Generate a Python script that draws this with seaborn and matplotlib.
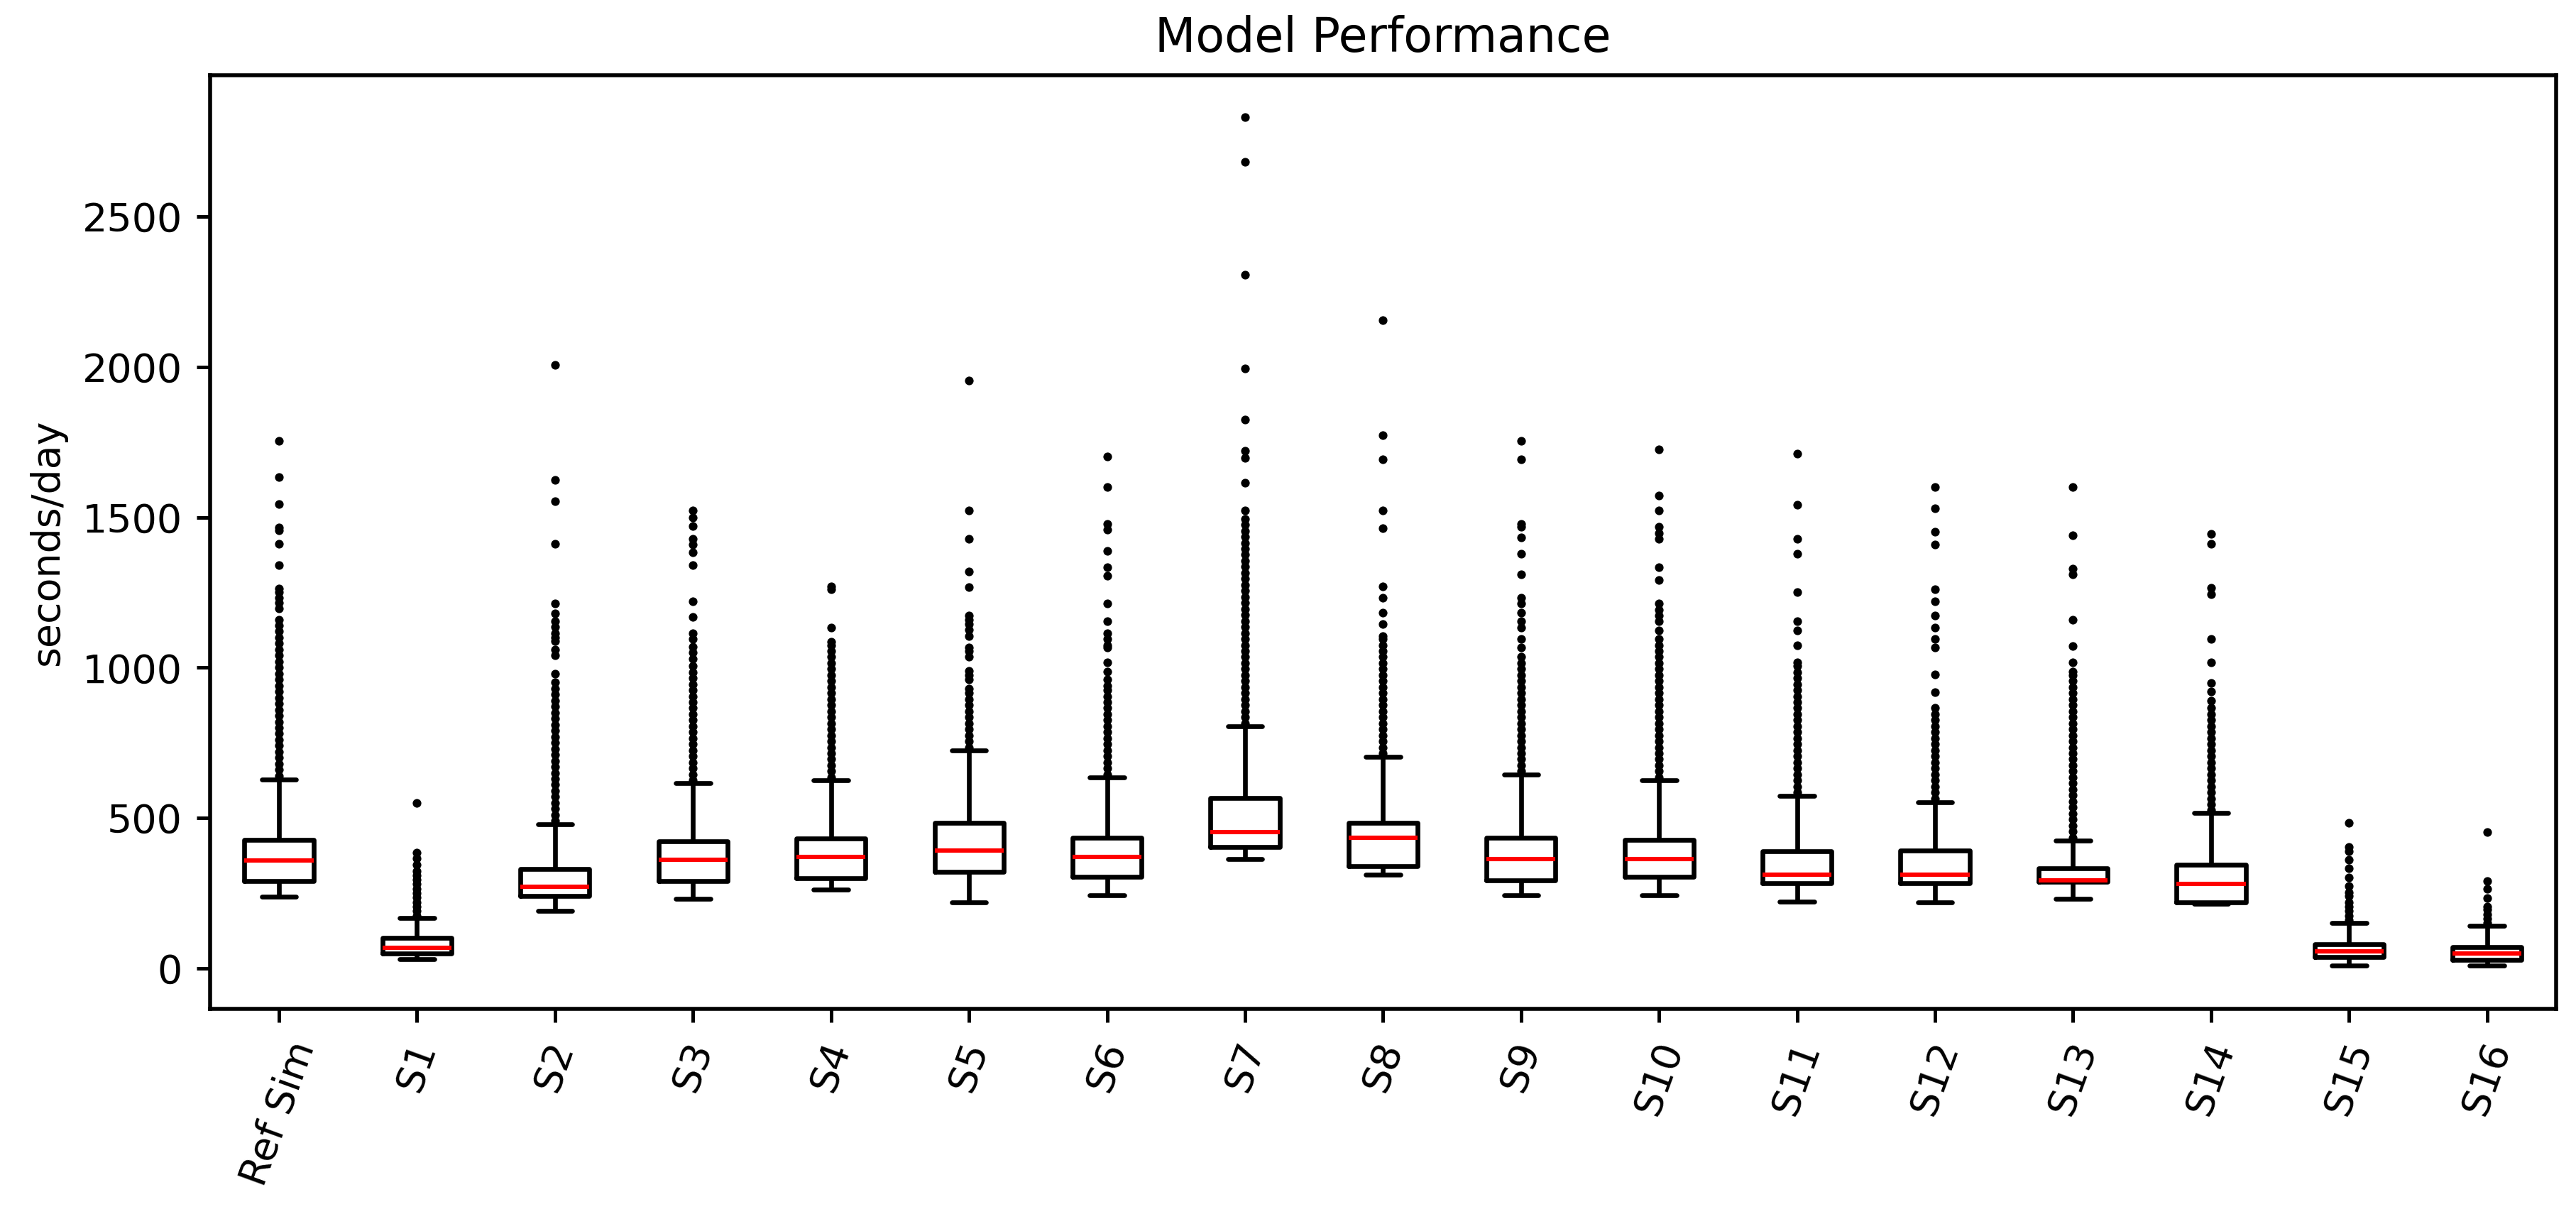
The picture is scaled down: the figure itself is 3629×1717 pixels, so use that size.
import matplotlib
matplotlib.use("Agg")
import matplotlib.pyplot as plt
import pandas as pd
import seaborn as sns

# ---------------- data ----------------
categories = ["Ref Sim", "S1", "S2", "S3", "S4", "S5", "S6", "S7", "S8",
              "S9", "S10", "S11", "S12", "S13", "S14", "S15", "S16"]

whisker_low = [239, 30, 190, 230, 261, 220, 242, 363, 312, 242, 242, 222, 220, 232, 214, 10, 10]
q1 = [289, 50, 240, 291, 300, 320, 304, 404, 339, 292, 304, 283, 283, 287, 218, 38, 28]
median = [358, 68, 270, 361, 371, 392, 371, 453, 433, 363, 363, 312, 312, 292, 281, 57, 48]
q3 = [428, 100, 329, 423, 431, 484, 433, 566, 484, 433, 426, 390, 392, 332, 345, 81, 71]
whisker_high = [628, 167, 480, 615, 625, 725, 635, 805, 703, 645, 625, 574, 553, 424, 516, 151, 142]

outliers_ref_sim = [640, 660, 680, 700, 720, 740, 760, 780, 800, 820, 840, 860, 880, 900,
                    920, 940, 960, 980, 1000, 1020, 1040, 1060, 1080, 1100, 1120, 1140, 1160,
                    1196, 1216, 1233, 1250, 1263, 1341, 1412, 1456, 1466, 1543, 1633, 1753]
outliers_s1 = [175, 190, 205, 220, 235, 250, 265, 280, 295, 310, 324, 345, 365, 385, 550]
outliers_s2 = [490, 510, 530, 550, 570, 590, 610, 630, 650, 670, 690, 710, 730, 750, 770,
               790, 810, 830, 850, 870, 890, 910, 930, 950, 980, 1040, 1060, 1088, 1101,
               1115, 1135, 1155, 1180, 1212, 1412, 1554, 1624, 2006]
outliers_s3 = [625, 645, 665, 685, 705, 725, 745, 765, 785, 805, 825, 845, 865, 885, 905,
               925, 945, 965, 985, 1005, 1030, 1050, 1070, 1095, 1115, 1169, 1220, 1340,
               1383, 1408, 1428, 1471, 1500, 1522]
outliers_s4 = [635, 655, 675, 695, 715, 735, 755, 775, 795, 815, 835, 855, 875, 895, 915,
               935, 955, 975, 995, 1015, 1035, 1055, 1075, 1085, 1134, 1261, 1271]
outliers_s5 = [735, 755, 775, 795, 815, 835, 855, 875, 895, 915, 929, 960, 975, 990, 1036,
               1055, 1066, 1105, 1125, 1144, 1160, 1173, 1267, 1320, 1428, 1522, 1954]
outliers_s6 = [645, 665, 685, 705, 725, 745, 765, 785, 805, 825, 845, 865, 885, 905, 925,
               940, 960, 987, 1017, 1066, 1075, 1095, 1115, 1154, 1212, 1306, 1334, 1389,
               1458, 1477, 1600, 1702]
outliers_s7 = [815, 835, 855, 875, 895, 915, 935, 955, 975, 995, 1015, 1035, 1055, 1075,
               1095, 1115, 1135, 1155, 1175, 1195, 1215, 1235, 1255, 1275, 1295, 1315, 1335,
               1355, 1375, 1395, 1415, 1435, 1455, 1475, 1495, 1522, 1614, 1698, 1721,
               1825, 1995, 2307, 2681, 2831]
outliers_s8 = [715, 735, 755, 775, 795, 815, 835, 855, 875, 895, 915, 935, 955, 975, 995,
               1015, 1035, 1055, 1075, 1095, 1105, 1144, 1183, 1232, 1271, 1463, 1522,
               1692, 1772, 2156]
outliers_s9 = [655, 675, 695, 715, 735, 755, 775, 795, 815, 835, 855, 875, 895, 915, 935,
               955, 975, 995, 1015, 1036, 1066, 1095, 1134, 1154, 1183, 1212, 1232, 1310,
               1379, 1432, 1467, 1477, 1692, 1755]
outliers_s10 = [635, 655, 675, 695, 715, 735, 755, 775, 795, 815, 835, 855, 875, 895, 915,
                935, 955, 975, 995, 1015, 1035, 1055, 1075, 1095, 1124, 1154, 1173, 1193,
                1212, 1291, 1334, 1428, 1447, 1467, 1522, 1573, 1725]
outliers_s11 = [585, 605, 625, 645, 665, 685, 705, 725, 745, 765, 785, 805, 825, 845, 865,
                885, 905, 925, 945, 965, 985, 1005, 1017, 1075, 1124, 1154, 1252, 1379,
                1428, 1541, 1712]
outliers_s12 = [565, 585, 605, 625, 645, 665, 685, 705, 725, 745, 765, 785, 805, 825, 845,
                865, 919, 977, 1066, 1095, 1134, 1173, 1220, 1261, 1408, 1451, 1530, 1600]
outliers_s13 = [435, 455, 475, 495, 515, 535, 555, 575, 595, 615, 635, 655, 675, 695, 715,
                735, 755, 775, 795, 815, 835, 855, 875, 895, 915, 935, 955, 975, 987, 1017,
                1071, 1160, 1310, 1330, 1441, 1600]
outliers_s14 = [525, 545, 565, 585, 605, 625, 645, 665, 685, 705, 725, 745, 765, 785, 805,
                825, 845, 865, 890, 920, 948, 1017, 1095, 1245, 1265, 1412, 1444]
outliers_s15 = [160, 175, 190, 205, 220, 240, 253, 273, 302, 332, 361, 390, 404, 484]
outliers_s16 = [150, 165, 180, 195, 205, 234, 263, 289, 453]

outlier_lists = [outliers_ref_sim, outliers_s1, outliers_s2, outliers_s3, outliers_s4,
                 outliers_s5, outliers_s6, outliers_s7, outliers_s8, outliers_s9,
                 outliers_s10, outliers_s11, outliers_s12, outliers_s13, outliers_s14,
                 outliers_s15, outliers_s16]

title = "Model Performance"
y_label = "seconds/day"

# ---------------- tables built from the arrays ----------------
box_rows = []
for i, cat in enumerate(categories):
    for v in (whisker_low[i], q1[i], median[i], q3[i], whisker_high[i]):
        box_rows.append({"category": cat, "value": v})
box_df = pd.DataFrame(box_rows)

out_rows = []
for cat, vals in zip(categories, outlier_lists):
    for v in vals:
        out_rows.append({"category": cat, "value": v})
out_df = pd.DataFrame(out_rows)

# ---------------- style ----------------
sns.set_style("ticks")
plt.rcParams.update({
    "font.family": ["DejaVu Sans"],
    "axes.edgecolor": "black",
    "axes.linewidth": 1.0,
    "text.color": "black",
    "axes.labelcolor": "black",
    "xtick.color": "black",
    "ytick.color": "black",
    "xtick.labelsize": 10,
    "ytick.labelsize": 10,
    "axes.labelsize": 10,
    "axes.titlesize": 12,
    "xtick.major.size": 3.5,
    "ytick.major.size": 3.5,
    "xtick.major.width": 0.9,
    "ytick.major.width": 0.9,
})

fig = plt.figure(figsize=(9.075, 4.2925), dpi=400)
ax = fig.add_axes([0.0815, 0.1724, 0.9105, 0.7659])

sns.boxplot(data=box_df, x="category", y="value", order=categories, ax=ax,
            width=0.5, whis=(0, 100), showfliers=False, fill=False,
            color="black", linewidth=1.2,
            medianprops={"color": "red", "linewidth": 1.1})

sns.stripplot(data=out_df, x="category", y="value", order=categories, ax=ax,
              jitter=False, color="black", size=2.2, linewidth=0)

ax.set_xlim(-0.5, len(categories) - 0.5)
ax.set_ylim(-135, 2970)
ax.set_yticks([0, 500, 1000, 1500, 2000, 2500])
ax.set_xlabel("")
ax.set_ylabel(y_label)
ax.set_title(title)
for lab in ax.get_xticklabels():
    lab.set_rotation(70)
    lab.set_ha("center")
for s in ax.spines.values():
    s.set_visible(True)
    s.set_color("black")

fig.savefig("out.png", dpi=400)
